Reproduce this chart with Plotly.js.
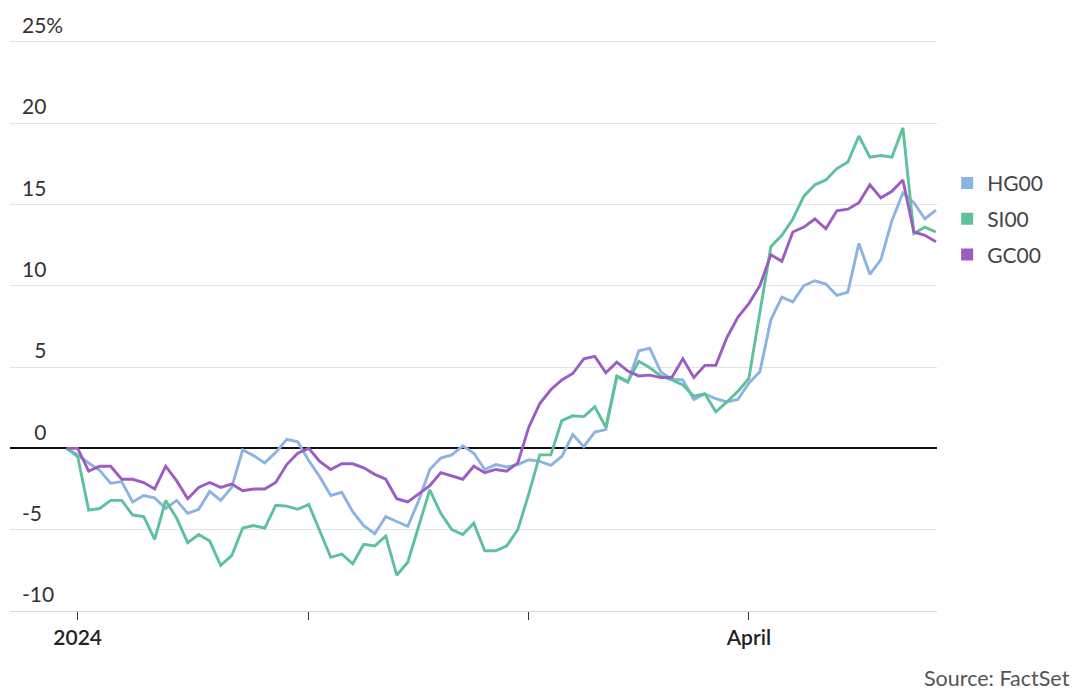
<!DOCTYPE html>
<html>
<head>
<meta charset="utf-8">
<script src="https://cdn.plot.ly/plotly-3.0.1.min.js"></script>
<style>
  html, body { margin: 0; padding: 0; background: #fff; }
  #chart { width: 1080px; height: 699px; }
</style>
</head>
<body>
<div id="chart"></div>
<script>
// Trading days (category axis)
const dates = [
  '2023-12-29',
  '2024-01-02','2024-01-03','2024-01-04','2024-01-05','2024-01-08','2024-01-09','2024-01-10','2024-01-11','2024-01-12',
  '2024-01-16','2024-01-17','2024-01-18','2024-01-19','2024-01-22','2024-01-23','2024-01-24','2024-01-25','2024-01-26',
  '2024-01-29','2024-01-30','2024-01-31',
  '2024-02-01','2024-02-02','2024-02-05','2024-02-06','2024-02-07','2024-02-08','2024-02-09','2024-02-12','2024-02-13',
  '2024-02-14','2024-02-15','2024-02-16','2024-02-20','2024-02-21','2024-02-22','2024-02-23','2024-02-26','2024-02-27',
  '2024-02-28','2024-02-29',
  '2024-03-01','2024-03-04','2024-03-05','2024-03-06','2024-03-07','2024-03-08','2024-03-11','2024-03-12','2024-03-13',
  '2024-03-14','2024-03-15','2024-03-18','2024-03-19','2024-03-20','2024-03-21','2024-03-22','2024-03-25','2024-03-26',
  '2024-03-27','2024-03-28',
  '2024-04-01','2024-04-02','2024-04-03','2024-04-04','2024-04-05','2024-04-08','2024-04-09','2024-04-10','2024-04-11',
  '2024-04-12','2024-04-15','2024-04-16','2024-04-17','2024-04-18','2024-04-19','2024-04-22','2024-04-23','2024-04-24'
];

// % change since end of 2023
const HG00 = [0,-0.4,-0.9,-1.35,-2.15,-2.05,-3.3,-2.9,-3.05,-3.7,
  -3.2,-4.0,-3.75,-2.65,-3.2,-2.4,-0.1,-0.45,-0.9,-0.25,
  0.55,0.4,-0.75,-1.75,-2.9,-2.7,-3.9,-4.75,-5.25,-4.2,
  -4.5,-4.8,-3.2,-1.3,-0.6,-0.4,0.15,-0.3,-1.3,-1.0,
  -1.15,-1.0,-0.7,-0.8,-1.05,-0.5,0.85,0.1,1.0,1.15,
  4.4,4.05,6.0,6.15,4.7,4.25,4.2,3.0,3.35,3.05,
  2.85,3.0,4.0,4.7,7.9,9.3,9.0,10.0,10.3,10.1,
  9.4,9.6,12.6,10.7,11.6,14.0,15.7,15.1,14.1,14.65];

const SI00 = [0,-0.5,-3.8,-3.7,-3.2,-3.2,-4.1,-4.2,-5.6,-3.2,
  -4.3,-5.8,-5.3,-5.7,-7.2,-6.6,-4.9,-4.75,-4.9,-3.5,
  -3.55,-3.75,-3.45,-5.1,-6.7,-6.5,-7.1,-5.9,-6.0,-5.4,
  -7.8,-7.0,-4.8,-2.55,-4.0,-5.0,-5.3,-4.6,-6.3,-6.3,
  -6.0,-5.0,-2.8,-0.4,-0.4,1.7,2.0,1.95,2.55,1.3,
  4.45,4.1,5.35,4.95,4.45,4.2,3.9,3.2,3.35,2.25,
  2.85,3.5,4.3,8.3,12.4,13.1,14.1,15.5,16.2,16.5,
  17.2,17.6,19.2,17.9,18.0,17.9,19.7,13.2,13.6,13.3];

const GC00 = [0,0,-1.4,-1.1,-1.1,-1.9,-1.9,-2.1,-2.5,-1.1,
  -2.0,-3.1,-2.4,-2.1,-2.4,-2.2,-2.6,-2.5,-2.5,-2.1,
  -1.0,-0.3,0.0,-0.8,-1.3,-0.95,-0.95,-1.2,-1.6,-1.9,
  -3.1,-3.3,-2.8,-2.3,-1.5,-1.7,-1.9,-1.1,-1.5,-1.3,
  -1.4,-0.9,1.3,2.75,3.6,4.2,4.6,5.5,5.65,4.65,
  5.3,4.75,4.45,4.5,4.35,4.35,5.5,4.35,5.1,5.1,
  6.8,8.05,8.9,10.0,11.9,11.5,13.3,13.6,14.1,13.5,
  14.6,14.7,15.1,16.2,15.4,15.8,16.5,13.3,13.1,12.7];

const seriesNames = ['HG00', 'SI00', 'GC00'];
const seriesColors = ['#8cb3e3', '#5dc19a', '#9d5cc3'];
const seriesValues = [HG00, SI00, GC00];

const xTickDates = ['2024-01-02', '2024-02-01', '2024-03-01', '2024-04-01'];
const xTickLabels = ['2024', '', '', 'April'];
const yTickValues = [-10, -5, 0, 5, 10, 15, 20, 25];
const yTickLabels = ['-10', '-5', '\u20070', '\u20075', '10', '15', '20', '25%'];

const FONT = 'Lato, "Open Sans", sans-serif';

const traces = [];
seriesNames.forEach((name, k) => {
  traces.push({
    type: 'scatter', mode: 'lines', name: name,
    x: dates, y: seriesValues[k],
    line: { color: seriesColors[k], width: 2.9 },
    legendgroup: name, showlegend: false,
    hovertemplate: name + ': %{y:.1f}%<extra></extra>'
  });
});
// legend entries with square swatches
seriesNames.forEach((name, k) => {
  traces.push({
    type: 'bar', name: name, x: [null], y: [null],
    marker: { color: seriesColors[k] },
    legendgroup: name, showlegend: true, hoverinfo: 'skip'
  });
});

const layout = {
  width: 1080, height: 699,
  margin: { l: 10, r: 143, t: 1.25, b: 88 },
  paper_bgcolor: '#ffffff', plot_bgcolor: '#ffffff',
  font: { family: FONT, color: '#333333', size: 21 },
  showlegend: true,
  legend: {
    xref: 'container', yref: 'container',
    x: 0.877, y: 0.767, xanchor: 'left', yanchor: 'top',
    font: { family: FONT, size: 21, color: '#444444' },
    traceorder: 'grouped', tracegroupgap: 5.5,
    bgcolor: 'rgba(0,0,0,0)'
  },
  xaxis: {
    type: 'category',
    range: [-5.15, 79.1],
    tickmode: 'array', tickvals: xTickDates, ticktext: xTickLabels,
    ticks: 'outside', ticklen: 8, tickwidth: 1, tickcolor: '#333333',
    showgrid: false, zeroline: false,
    showline: true, linecolor: '#d8d8d8', linewidth: 1,
    tickfont: { family: FONT, size: 21, color: '#222222', weight: 600 },
    fixedrange: true
  },
  yaxis: {
    range: [-10, 27.5],
    tickmode: 'array', tickvals: yTickValues, ticktext: yTickLabels,
    ticklabelposition: 'inside', ticklabelshift: -16, ticklabelstandoff: 9,
    ticks: '',
    showgrid: true, gridcolor: '#e3e3e3', gridwidth: 1,
    zeroline: true, zerolinecolor: '#111111', zerolinewidth: 1.6,
    showline: false,
    tickfont: { family: FONT, size: 21, color: '#333333' },
    fixedrange: true
  },
  annotations: [{
    xref: 'paper', yref: 'paper', x: 1.1456, y: -0.11,
    xanchor: 'right', yanchor: 'middle', showarrow: false,
    text: 'Source: FactSet',
    font: { family: FONT, size: 21.5, color: '#555555' }
  }]
};

Plotly.newPlot('chart', traces, layout, { displayModeBar: false, responsive: false });
</script>
</body>
</html>
